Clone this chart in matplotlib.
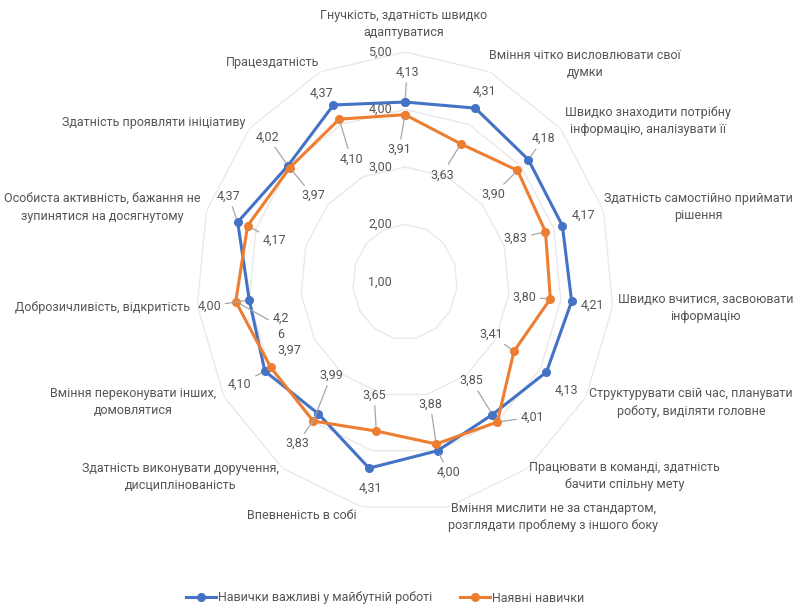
import numpy as np
import matplotlib
matplotlib.use("Agg")
import matplotlib.pyplot as plt
from matplotlib.lines import Line2D

plt.rcParams['font.family'] = ['Roboto', 'DejaVu Sans']

# ---------------- data ----------------
categories = [
    "Гнучкість, здатність швидко\nадаптуватися",
    "Вміння чітко висловлювати свої\nдумки",
    "Швидко знаходити потрібну\nінформацію, аналізувати її",
    "Здатність самостійно приймати\nрішення",
    "Швидко вчитися, засвоювати\nінформацію",
    "Структурувати свій час, планувати\nроботу, виділяти головне",
    "Працювати в команді, здатність\nбачити спільну мету",
    "Вміння мислити не за стандартом,\nрозглядати проблему з іншого боку",
    "Впевненість в собі",
    "Здатність виконувати доручення,\nдисциплінованість",
    "Вміння переконувати інших,\nдомовлятися",
    "Доброзичливість, відкритість",
    "Особиста активність, бажання не\nзупинятися на досягнутому",
    "Здатність проявляти ініціативу",
    "Працездатність",
]
future_skills = [4.13, 4.31, 4.18, 4.17, 4.21, 4.13, 3.85, 4.00, 4.31, 3.83, 4.10, 4.00, 4.37, 4.02, 4.37]
current_skills = [3.91, 3.63, 3.90, 3.83, 3.80, 3.41, 4.01, 3.88, 3.65, 3.99, 3.97, 4.26, 4.17, 3.97, 4.10]
series_names = ["Навички важливі у майбутній роботі", "Наявні навички"]
r_ticks = [1, 2, 3, 4, 5]

# ---------------- layout (label placement, pixels) ----------------
cat_offsets = [(-1, 28), (95, 8), (88, 7), (95, 4), (93, -1.5), (105, -5.5), (97, -8),
               (105, -10), (-60, -9), (-102, -9), (-91, -5), (-95, -1), (-104, 3.5),
               (-96, 6), (-48, 9)]
blue_lbl_off = [(2, 30), (9, 17), (15, 21), (21, 10), (21, -4), (20, -18), (-21, 34),
                (11, -22), (1, -20), (-21, -30), (-25, -13), (-40, -6), (-9, 26),
                (-20, 29), (-12, 12)]
blue_leader = [1, 0, 1, 0, 0, 0, 1, 1, 0, 1, 1, 1, 1, 1, 0]
orange_lbl_off = [(-6, -35), (-19, -31), (-24, -24), (-30, -7), (-26, 1.5), (-23, 17),
                  (35, 5), (-6, 40), (-2, 36), (18, 46), (19, 17), (45, -25), (27, -15),
                  (23, -28), (12, -40)]
orange_leader = [1, 1, 1, 1, 1, 1, 1, 1, 1, 1, 0, 1, 1, 1, 1]
orange_wrap = {11: 3}

BLUE = "#4472C4"
ORANGE = "#ED7D31"
TXT = "#555555"
GRID = "#e9e9e9"
LEAD = "#a6a6a6"
FS = 9

W, H = 795, 606
fig = plt.figure(figsize=(W / 100, H / 100), dpi=100)
cx, cy = 405, 282
rx, ry = 208.8, 230
ax = fig.add_axes([(cx - rx) / W, (H - cy - ry) / H, 2 * rx / W, 2 * ry / H], projection='polar')
ax.set_aspect('auto')
ax.set_theta_zero_location('N')
ax.set_theta_direction(-1)
ax.set_ylim(r_ticks[0], r_ticks[-1])
ax.axis('off')

n = len(categories)
theta = np.arange(n) * 2 * np.pi / n
theta_c = np.append(theta, theta[0])

# polygon gridlines
for lv in r_ticks[1:]:
    ax.plot(theta_c, [lv] * (n + 1), color=GRID, lw=1.0, zorder=1)

# radial tick labels
for lv in r_ticks:
    ax.annotate(f"{lv:.2f}".replace('.', ','), xy=(0, lv), xytext=(-13, 0),
                textcoords='offset pixels', ha='right', va='center',
                color=TXT, fontsize=FS, zorder=2, annotation_clip=False)

# series
for vals, col in [(future_skills, BLUE), (current_skills, ORANGE)]:
    ax.plot(theta_c, np.append(vals, vals[0]), color=col, lw=2.2, marker='o',
            ms=5.5, zorder=4, solid_joinstyle='round')

# category labels
for th, lab, off in zip(theta, categories, cat_offsets):
    ax.annotate(lab, xy=(th, r_ticks[-1]), xytext=off, textcoords='offset pixels',
                ha='center', va='center', multialignment='center', color=TXT,
                fontsize=FS, linespacing=1.45, annotation_clip=False)

# data labels
def put_labels(vals, offs, leaders, wraps=None):
    for i, (th, v, off, ld) in enumerate(zip(theta, vals, offs, leaders)):
        s = f"{v:.2f}".replace('.', ',')
        if wraps and i in wraps:
            k = wraps[i]
            s = s[:k] + "\n" + s[k:]
        kw = {}
        if ld:
            kw['arrowprops'] = dict(arrowstyle='-', color=LEAD, lw=0.9, shrinkA=1, shrinkB=3)
        ax.annotate(s, xy=(th, v), xytext=off, textcoords='offset pixels',
                    ha='center', va='center', multialignment='center', color=TXT,
                    fontsize=FS, linespacing=1.3, zorder=5, annotation_clip=False, **kw)

put_labels(future_skills, blue_lbl_off, blue_leader)
put_labels(current_skills, orange_lbl_off, orange_leader, orange_wrap)

handles = [Line2D([], [], color=BLUE, lw=2.2, marker='o', ms=5.5),
           Line2D([], [], color=ORANGE, lw=2.2, marker='o', ms=5.5)]
leg = fig.legend(handles, series_names, loc='center', bbox_to_anchor=(385 / W, (H - 598) / H),
                 ncol=2, frameon=False, handlelength=2.4, handletextpad=0.2,
                 columnspacing=2.2, fontsize=FS)
for t in leg.get_texts():
    t.set_color(TXT)

fig.savefig("out.png", dpi=100, facecolor='white')
